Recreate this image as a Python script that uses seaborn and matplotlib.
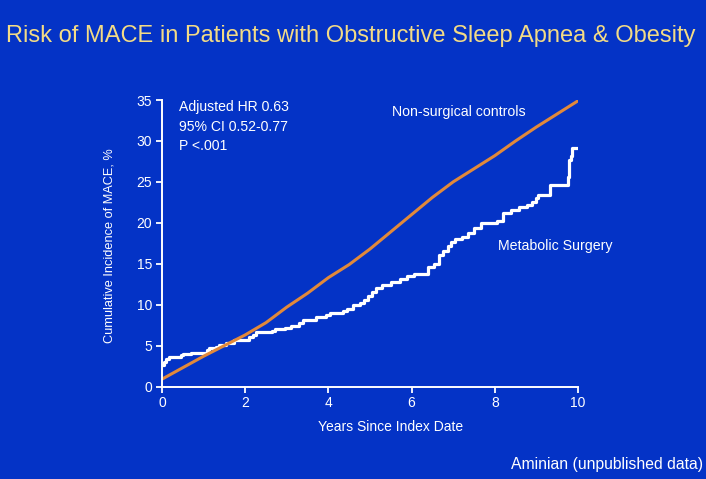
import matplotlib
matplotlib.use("Agg")
import matplotlib.pyplot as plt
import seaborn as sns
import pandas as pd

# Data
ctrl_years = [0, 0.5, 1, 1.5, 2, 2.5, 3, 3.5, 4, 4.5, 5, 5.5, 6, 6.5, 7, 7.5, 8, 8.5, 9, 9.5, 10]
ctrl_inc = [0.9, 2.3, 3.7, 5.0, 6.3, 7.8, 9.7, 11.4, 13.3, 14.9, 16.8, 18.9, 21.0, 23.1, 25.0,
            26.6, 28.2, 30.0, 31.7, 33.3, 34.9]

surg_years = [0, 0.05, 0.1, 0.18, 0.45, 0.5, 0.7, 1.07, 1.12, 1.3, 1.38, 1.55, 1.72, 2.1, 2.18,
              2.26, 2.65, 2.72, 2.95, 3.1, 3.3, 3.4, 3.7, 3.95, 4.05, 4.35, 4.45, 4.6, 4.75, 4.85,
              4.95, 5.05, 5.15, 5.3, 5.5, 5.72, 5.88, 6.05, 6.4, 6.55, 6.65, 6.75, 6.87, 6.95,
              7.05, 7.2, 7.35, 7.5, 7.68, 8.05, 8.2, 8.38, 8.58, 8.78, 8.9, 8.98, 9.05, 9.33,
              9.76, 9.79, 9.84, 9.86, 10.02]
surg_inc = [2.6, 3.0, 3.3, 3.6, 3.9, 4.0, 4.1, 4.5, 4.7, 4.8, 5.1, 5.3, 5.7, 6.0, 6.3,
            6.6, 6.8, 7.0, 7.2, 7.4, 7.8, 8.1, 8.5, 8.7, 9.0, 9.2, 9.5, 9.9, 10.2, 10.6,
            11.0, 11.5, 12.0, 12.4, 12.8, 13.1, 13.5, 13.8, 14.6, 15.0, 16.1, 16.6, 17.2, 17.7,
            18.0, 18.3, 18.8, 19.4, 20.0, 20.2, 21.2, 21.6, 21.9, 22.2, 22.6, 23.0, 23.4, 24.6,
            25.6, 27.7, 28.1, 29.1, 29.1]

xticks = [0, 2, 4, 6, 8, 10]
yticks = [0, 5, 10, 15, 20, 25, 30, 35]

title = "Risk of MACE in Patients with Obstructive Sleep Apnea & Obesity"
ylabel = "Cumulative Incidence of MACE, %"
xlabel = "Years Since Index Date"
stats_text = "Adjusted HR 0.63\n95% CI 0.52-0.77\nP <.001"
ctrl_label = "Non-surgical controls"
surg_label = "Metabolic Surgery"
source = "Aminian (unpublished data)"

BG = "#0433C6"
ORANGE = "#E2893A"
TITLE_C = "#F3DB86"

sns.set_theme(style="ticks")
plt.rcParams["font.family"] = ["Liberation Sans", "DejaVu Sans"]

fig = plt.figure(figsize=(7.06, 4.79), dpi=100, facecolor=BG)
ax = fig.add_axes([162 / 706, 1 - 386.5 / 479, (578 - 162) / 706, (386.5 - 100) / 479])
ax.set_facecolor(BG)

df_s = pd.DataFrame({"x": surg_years, "y": surg_inc})
df_c = pd.DataFrame({"x": ctrl_years, "y": ctrl_inc})
sns.lineplot(data=df_s, x="x", y="y", ax=ax, color="white", lw=2.3,
             drawstyle="steps-post", estimator=None)
sns.lineplot(data=df_c, x="x", y="y", ax=ax, color=ORANGE, lw=2.2, estimator=None)

ax.set_xlim(0, 10)
ax.set_ylim(0, 35)
ax.set_xticks(xticks)
ax.set_yticks(yticks)
ax.set_xlabel("")
ax.set_ylabel("")
for s in ["top", "right"]:
    ax.spines[s].set_visible(False)
for s in ["left", "bottom"]:
    ax.spines[s].set_color("white")
    ax.spines[s].set_linewidth(1.4)
ax.tick_params(colors="white", width=1.3, length=4, labelsize=10, pad=3)
for lab in ax.get_xticklabels() + ax.get_yticklabels():
    lab.set_color("white")

fig.text(6 / 706, 1 - 36 / 479, title, color=TITLE_C, fontsize=17.0, va="center", ha="left")
fig.text(110 / 706, 1 - 246 / 479, ylabel, color="white", fontsize=9.2, rotation=90,
         va="center", ha="center")
fig.text(391 / 706, 1 - 427 / 479, xlabel, color="white", fontsize=10, va="center", ha="center")
fig.text(179 / 706, 1 - 100 / 479, stats_text, color="white", fontsize=10.1, va="top", ha="left",
         linespacing=1.52)
fig.text(392 / 706, 1 - 112 / 479, ctrl_label, color="white", fontsize=10.2, va="center", ha="left")
fig.text(498 / 706, 1 - 246 / 479, surg_label, color="white", fontsize=10.2, va="center", ha="left")
fig.text(703 / 706, 1 - 464 / 479, source, color="white", fontsize=11.3, va="center", ha="right")

fig.savefig("out.png", dpi=100, facecolor=BG)
